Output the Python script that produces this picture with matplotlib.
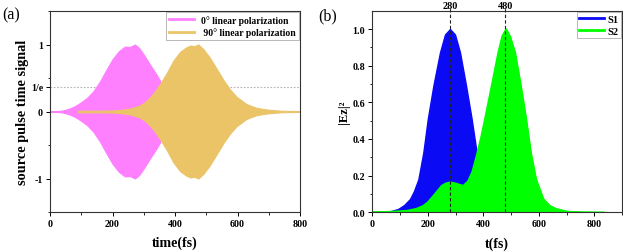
import numpy as np
import matplotlib
matplotlib.use("Agg")
import matplotlib.pyplot as plt
from matplotlib.lines import Line2D

plt.rcParams["font.family"] = ["Liberation Serif", "DejaVu Serif"]
plt.rcParams["font.weight"] = "bold"
plt.rcParams["axes.linewidth"] = 0.8

# (a) source pulse envelopes
t_pol0 = [0, 20, 40, 60, 80, 100, 120, 140, 160, 180, 200, 220, 240, 256,
          272, 285, 300, 320, 341, 360, 380, 400, 420, 440, 460, 490, 520]
env_pol0 = [0.0, 0.005, 0.015, 0.04, 0.08, 0.14, 0.21, 0.31, 0.45, 0.62,
            0.78, 0.9, 0.97, 0.965, 1.0, 0.95, 0.85, 0.70, 0.55, 0.40,
            0.30, 0.20, 0.13, 0.08, 0.05, 0.02, 0.0]

t_pol90 = [90, 150, 200, 230, 256, 288, 309, 331, 352, 373, 395, 416, 437,
           450, 462, 475, 491, 512, 533, 555, 576, 597, 629, 661, 693, 736,
           770, 800]
env_pol90 = [0.012, 0.012, 0.015, 0.025, 0.045, 0.09, 0.16, 0.27, 0.41,
             0.57, 0.76, 0.89, 0.96, 0.985, 0.975, 1.0, 0.93, 0.80, 0.64,
             0.47, 0.33, 0.22, 0.11, 0.055, 0.03, 0.012, 0.008, 0.006]

# (b) |Ez|^2 at the two detectors
t_s1 = [0, 30, 60, 93, 115, 136, 150, 166, 184, 200, 220, 244, 262, 280,
        298, 316, 338, 358, 376, 394, 424, 467, 530, 600, 700, 835]
v_s1 = [0.0, 0.001, 0.004, 0.018, 0.04, 0.073, 0.115, 0.18, 0.327, 0.51,
        0.69, 0.873, 0.97, 1.0, 0.97, 0.873, 0.69, 0.51, 0.327, 0.18, 0.073,
        0.018, 0.003, 0.001, 0.0, 0.0]

t_s2 = [0, 60, 126, 160, 184, 200, 220, 250, 265, 281, 300, 328, 345, 360,
        376, 392, 406, 430, 454, 468, 482, 496, 514, 535, 554, 571, 590,
        616, 640, 664, 704, 760, 835]
v_s2 = [0.002, 0.003, 0.009, 0.02, 0.036, 0.055, 0.09, 0.145, 0.158, 0.164,
        0.158, 0.145, 0.17, 0.22, 0.31, 0.41, 0.51, 0.69, 0.873, 0.96, 1.0,
        0.96, 0.873, 0.69, 0.51, 0.327, 0.18, 0.073, 0.035, 0.018, 0.004,
        0.001, 0.0]

peaks = [280, 480]

pink = "#FF80FF"
gold = "#EBC468"
blue = "#0A0AF5"
green = "#00FF00"

fig = plt.figure(figsize=(6.23, 2.53), dpi=100)
ax1 = fig.add_axes([50 / 623, 1 - 213 / 253, 250 / 623, 201 / 253])
ax2 = fig.add_axes([372.3 / 623, 1 - 213.3 / 253, 249.7 / 623, 201.6 / 253])

# ---- (a)
ax1.axhline(np.exp(-1), color="#b5b5b5", ls=(0, (1.5, 1.5)), lw=0.8, zorder=0)
t0 = np.array(t_pol0)
e0 = np.array(env_pol0)
ax1.fill_between(t0, -e0, e0, color=pink, lw=0.8, zorder=1)
t90 = np.array(t_pol90)
e90 = np.array(env_pol90)
ax1.fill_between(t90, -e90, e90, color=gold, lw=0.8, zorder=2)

ax1.set_xlim(0, 800)
ax1.set_ylim(-1.5, 1.5)
ax1.set_xticks([0, 200, 400, 600, 800])
ax1.set_xticks([100, 300, 500, 700], minor=True)
ax1.set_yticks([-1, 0, np.exp(-1), 1])
ax1.set_yticklabels(["-1", "0", "1/e", "1"])
ax1.set_yticks([-1.5, -0.5, 0.5, 1.5], minor=True)
ax1.set_xlabel("time(fs)", fontsize=10, fontweight="bold")
ax1.set_ylabel("source pulse time signal", fontsize=10.3, fontweight="bold")
ax1.xaxis.set_label_coords(0.5, -0.115)
ax1.yaxis.set_label_coords(-0.082, 0.5)

leg1 = ax1.legend(
    handles=[Line2D([], [], color=pink, lw=2),
             Line2D([], [], color=gold, lw=2)],
    labels=["0° linear polarization", " 90° linear polarization"],
    loc="upper right", fontsize=6.9, frameon=True, fancybox=False,
    borderaxespad=0.1, handlelength=2.6, handletextpad=0.8,
    borderpad=0.3, labelspacing=0.3,
)
leg1.get_frame().set_edgecolor("#999999")
leg1.get_frame().set_linewidth(0.6)

# ---- (b)
ts1 = np.array(t_s1)
vs1 = np.array(v_s1)
ax2.fill_between(ts1, 0, vs1, color=blue, lw=1.0, zorder=1)
ts2 = np.array(t_s2)
vs2 = np.array(v_s2)
ax2.fill_between(ts2, 0, vs2, color=green, lw=1.0, zorder=2)
ax2.plot(ts2, vs2, color=green, lw=1.2, zorder=2)

for p in peaks:
    ax2.plot([p, p], [0, 1.115], color="#222222", ls=(0, (3, 2)), lw=0.8,
             zorder=3, clip_on=False)
    ax2.text(p, 1.128, str(p), ha="center", va="center", fontsize=7.4,
             fontweight="bold")

ax2.set_xlim(0, 900)
ax2.set_ylim(0, 1.1)
ax2.set_xticks([0, 200, 400, 600, 800])
ax2.set_xticks([100, 300, 500, 700, 900], minor=True)
ax2.set_yticks([0.0, 0.2, 0.4, 0.6, 0.8, 1.0])
ax2.set_yticklabels(["0.0", "0.2", "0.4", "0.6", "0.8", "1.0"])
ax2.set_yticks([0.1, 0.3, 0.5, 0.7, 0.9], minor=True)
ax2.set_xlabel("t(fs)", fontsize=10, fontweight="bold")
ax2.set_ylabel("|Ez|²", fontsize=9, fontweight="bold")
ax2.xaxis.set_label_coords(0.5, -0.118)
ax2.yaxis.set_label_coords(-0.09, 0.5)

leg2 = ax2.legend(
    handles=[Line2D([], [], color=blue, lw=2),
             Line2D([], [], color=green, lw=2)],
    labels=["S1", "S2"],
    loc="upper right", fontsize=7.5, frameon=True, fancybox=False,
    borderaxespad=0.1, handlelength=2.4, handletextpad=0.3,
    borderpad=0.25, labelspacing=0.25,
)
leg2.get_frame().set_edgecolor("#999999")
leg2.get_frame().set_linewidth(0.6)

for ax in (ax1, ax2):
    ax.tick_params(which="major", direction="out", length=3, width=0.7,
                   labelsize=7.2, pad=2)
    ax.tick_params(which="minor", direction="out", length=1.8, width=0.6)
    for lab in ax.get_xticklabels() + ax.get_yticklabels():
        lab.set_fontweight("bold")
    for s in ax.spines.values():
        s.set_color("#333333")

fig.text(2 / 623, 1 - 15 / 253, "(a)", fontsize=11.5, fontweight="normal",
         va="center", ha="left")
fig.text(318 / 623, 1 - 16 / 253, "(b)", fontsize=11.5, fontweight="normal",
         va="center", ha="left")

fig.savefig("out.png", dpi=100)
